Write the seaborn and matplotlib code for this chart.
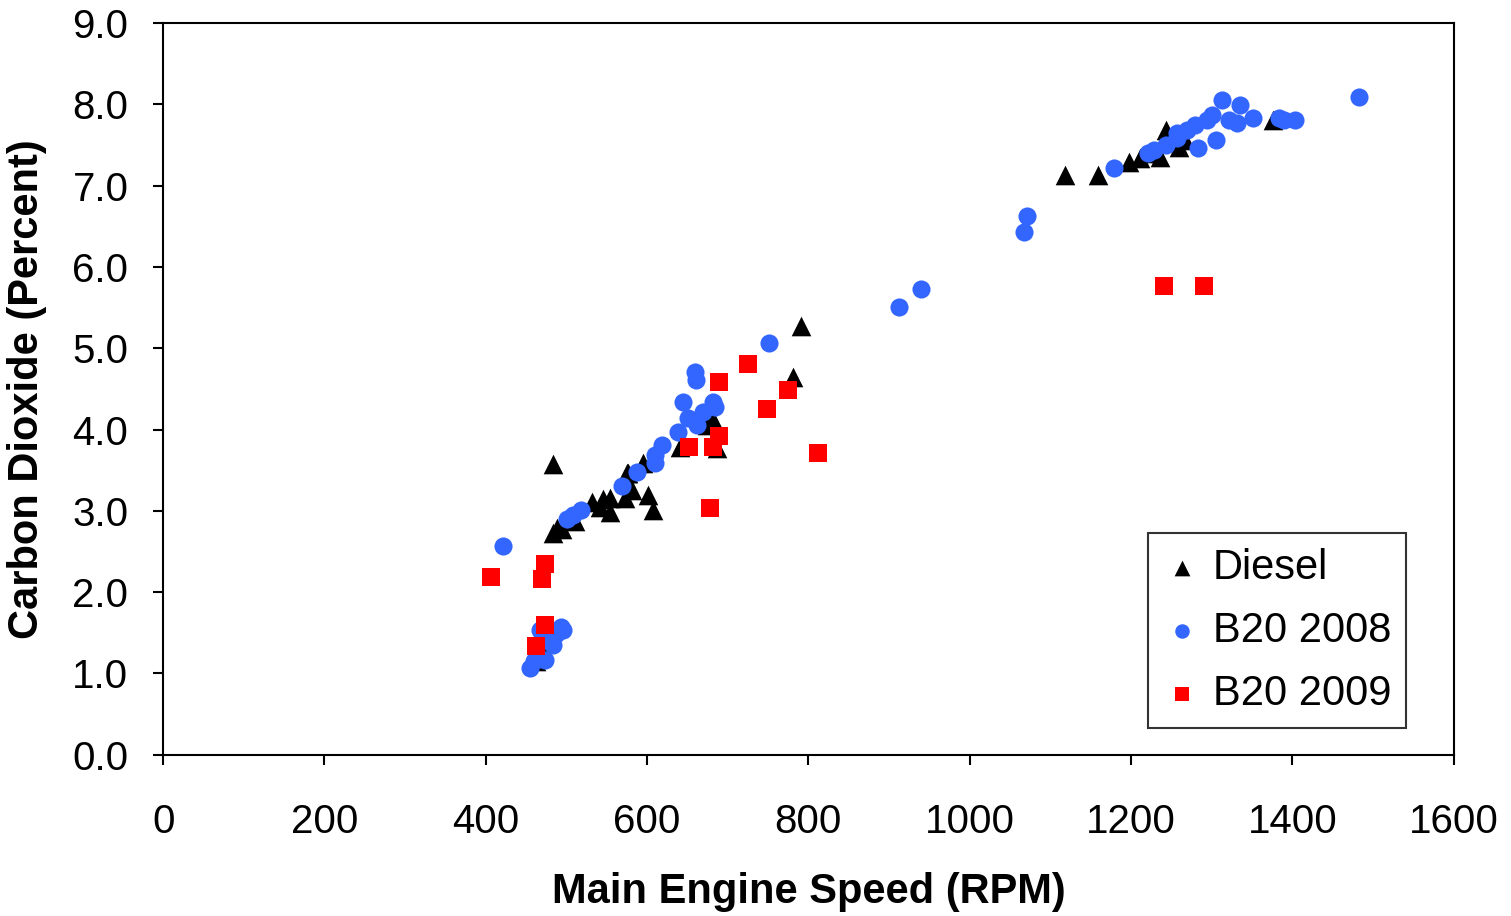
import seaborn as sns
import pandas as pd
import numpy as np
import matplotlib.pyplot as plt

# Diesel (triangles)
diesel_rpm = [483, 483, 488, 495, 510, 532, 542, 545, 554, 554, 572, 575, 576, 581, 595, 601, 607,
              641, 674, 682, 687, 781, 791, 462, 467, 472, 478,
              1118, 1159, 1198, 1211, 1228, 1236, 1244, 1260, 1267, 1376]
diesel_co2 = [3.57, 2.73, 2.79, 2.78, 2.88, 3.11, 3.05, 3.14, 3.16, 2.99, 3.16, 3.47, 3.47, 3.26, 3.59, 3.20, 3.01,
              3.79, 4.06, 4.12, 3.77, 4.65, 5.27, 1.15, 1.20, 1.30, 1.45,
              7.13, 7.13, 7.29, 7.34, 7.40, 7.35, 7.68, 7.48, 7.56, 7.81]

# B20 2008 (circles)
b2008_rpm = [421, 455, 460, 463, 467, 473, 473, 483, 487, 493, 496,
             501, 508, 518, 569, 587, 610, 610, 618, 638, 644, 651, 659, 661, 662, 669, 682, 684, 751,
             912, 940, 1067, 1071, 1179, 1221, 1229, 1244, 1257, 1257, 1269, 1279, 1283, 1294,
             1301, 1306, 1313, 1322, 1331, 1335, 1351, 1384, 1390, 1403, 1483]
b2008_co2 = [2.57, 1.07, 1.15, 1.23, 1.54, 1.17, 1.41, 1.35, 1.48, 1.57, 1.54,
             2.90, 2.95, 3.01, 3.30, 3.48, 3.59, 3.69, 3.81, 3.97, 4.34, 4.14, 4.71, 4.61, 4.06, 4.22, 4.34, 4.28, 5.06,
             5.51, 5.73, 6.43, 6.62, 7.21, 7.40, 7.44, 7.50, 7.64, 7.59, 7.68, 7.75, 7.46, 7.81,
             7.87, 7.56, 8.05, 7.81, 7.77, 7.99, 7.83, 7.83, 7.81, 7.80, 8.09]

# B20 2009 (squares)
b2009_rpm = [406, 470, 473, 473, 462, 652, 682, 689, 689, 725, 749, 775, 812, 678, 1241, 1290]
b2009_co2 = [2.19, 2.16, 2.34, 1.60, 1.34, 3.78, 3.78, 3.92, 4.59, 4.81, 4.25, 4.48, 3.71, 3.04, 5.77, 5.77]

df = pd.DataFrame({
    "rpm": diesel_rpm + b2008_rpm + b2009_rpm,
    "co2": diesel_co2 + b2008_co2 + b2009_co2,
    "fuel": ["Diesel"] * len(diesel_rpm) + ["B20 2008"] * len(b2008_rpm) + ["B20 2009"] * len(b2009_rpm),
})

sns.set_theme(style="ticks")
plt.rcParams['font.family'] = ['Liberation Sans', 'DejaVu Sans']
plt.rcParams['text.color'] = 'black'
plt.rcParams['axes.labelcolor'] = 'black'

fig = plt.figure(figsize=(15.11, 9.16), dpi=100)
ax = fig.add_axes([0.108, 0.176, 0.854, 0.799])

palette = {"Diesel": "black", "B20 2008": "#3366FF", "B20 2009": "#FF0000"}
markers = {"Diesel": "^", "B20 2008": "o", "B20 2009": "s"}
sizes = {"Diesel": 200, "B20 2008": 170, "B20 2009": 150}

for fuel in ["Diesel", "B20 2008", "B20 2009"]:
    sub = df[df["fuel"] == fuel]
    sns.scatterplot(data=sub, x="rpm", y="co2", color=palette[fuel], marker=markers[fuel],
                    s=sizes[fuel], linewidth=0, label=fuel, ax=ax)

ax.set_xlim(0, 1600)
ax.set_ylim(0, 9)
ax.set_xticks(np.arange(0, 1601, 200))
ax.set_yticks(np.arange(0, 9.1, 1.0))
ax.set_yticklabels([f"{v:.1f}" for v in np.arange(0, 9.1, 1.0)])
ax.tick_params(axis="both", labelsize=29, direction="out", length=7, width=1.5, colors="black",
               labelcolor="black")
ax.tick_params(axis="y", pad=18)
ax.tick_params(axis="x", pad=28)
for sp in ax.spines.values():
    sp.set_visible(True)
    sp.set_color("black")
    sp.set_linewidth(1.5)

ax.set_xlabel("Main Engine Speed (RPM)", fontsize=30, fontweight="bold", labelpad=22)
ax.set_ylabel("Carbon Dioxide (Percent)", fontsize=30, fontweight="bold", labelpad=18)

leg = ax.legend(loc="lower right", bbox_to_anchor=(0.963, 0.036), fontsize=30, frameon=True,
                fancybox=False, edgecolor="black", handletextpad=0.3, borderpad=0.35,
                labelspacing=0.55, markerscale=0.8, handlelength=0.9, borderaxespad=0)
leg.get_frame().set_linewidth(1.5)

fig.savefig("out.png", dpi=100)
